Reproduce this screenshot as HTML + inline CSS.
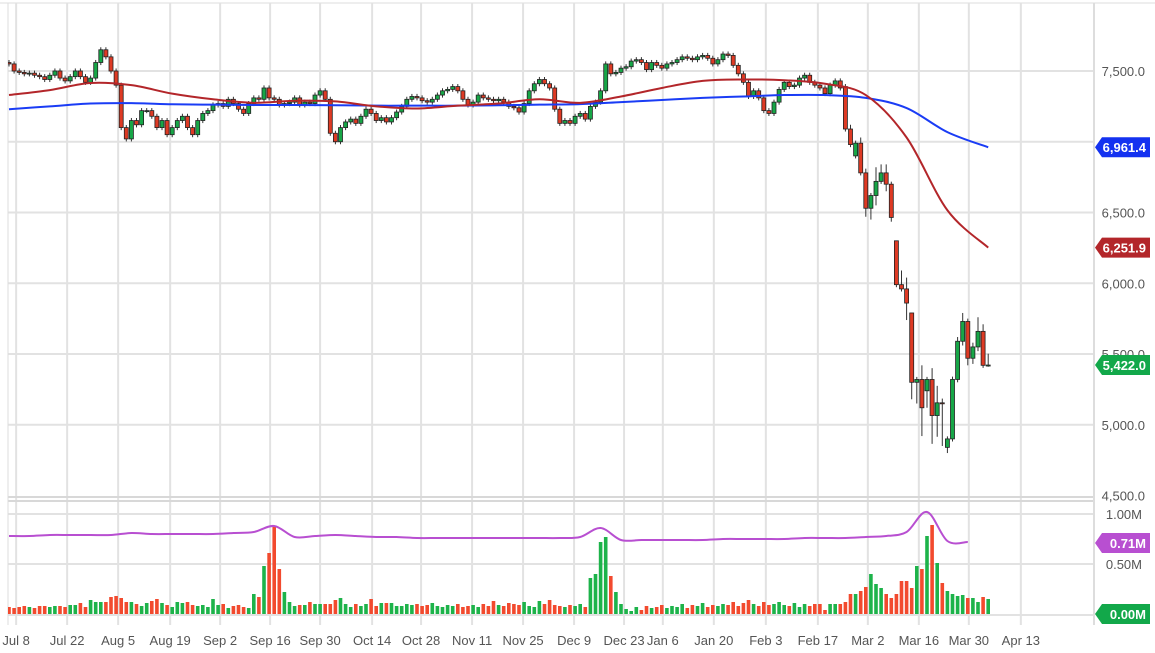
<!DOCTYPE html>
<html><head><meta charset="utf-8"><style>
html,body{margin:0;padding:0;background:#fff;}
svg{display:block;font-family:"Liberation Sans",sans-serif;}
</style></head><body>
<svg id="chart" width="1155" height="653" viewBox="0 0 1155 653">
<defs><clipPath id="plotclip"><rect x="8" y="0" width="1086" height="653"/></clipPath></defs>
<g id="grid"></g>
<g id="vol" clip-path="url(#plotclip)"></g>
<g id="price" clip-path="url(#plotclip)"></g>
<g id="axes"></g>
</svg>
<script>
const closes=[7550,7500,7490,7480,7485,7470,7460,7440,7470,7500,
7450,7430,7460,7500,7460,7420,7450,7560,7650,7600,
7500,7400,7100,7020,7150,7120,7220,7220,7180,7100,
7150,7050,7100,7150,7180,7100,7050,7150,7200,7220,
7260,7270,7250,7300,7270,7230,7200,7270,7310,7300,
7380,7310,7300,7260,7270,7280,7310,7260,7280,7270,
7330,7360,7300,7060,7000,7100,7140,7160,7130,7180,
7230,7200,7150,7170,7140,7170,7210,7250,7300,7320,
7310,7290,7280,7300,7330,7360,7370,7390,7360,7300,
7260,7280,7330,7310,7300,7290,7300,7280,7250,7240,
7210,7270,7360,7410,7440,7410,7380,7230,7130,7150,
7130,7180,7200,7160,7250,7280,7360,7550,7480,7490,
7520,7530,7570,7580,7560,7510,7560,7540,7520,7550,
7560,7580,7600,7590,7580,7600,7610,7590,7550,7580,
7620,7610,7540,7480,7420,7320,7360,7310,7220,7200,
7280,7370,7420,7390,7400,7450,7470,7420,7400,7380,7340,7400,7430,7380,
7090,6980,6990,6780,6530,6620,6720,6780,6700,6465,5990,5960,5860,5300,5320,5120,5320,5065,5155,5150,4900,5320,5590,5730,5470,5550,5660,5420,5422];
const gapOpens={164:7390,166:6900,174:6300,177:5790,180:5240,184:4840,190:5550};
const wickUp={165:30,167:40,168:30,170:100,171:60,172:60,174:0,175:100,176:80,177:0,179:100,181:80,182:120,183:30,185:20,186:30,187:60,188:20,189:30,190:100,191:50,192:80};
const wickDn={168:60,169:80,170:70,172:50,173:30,176:120,177:120,178:150,179:200,180:120,181:200,182:150,183:300,184:40,186:20,187:30,188:50,189:40,190:30,192:10};
const volumes=[.07,.06,.07,.08,.07,.06,.08,.08,.07,.08,
.08,.07,.09,.09,.11,.07,.14,.12,.12,.12,
.17,.18,.16,.12,.12,.10,.08,.11,.13,.15,
.11,.09,.07,.12,.11,.12,.09,.08,.09,.07,
.15,.09,.10,.06,.08,.09,.07,.06,.20,.17,
.48,.61,.88,.45,.22,.12,.08,.09,.09,.12,
.10,.10,.10,.10,.14,.16,.10,.07,.10,.08,
.10,.15,.08,.11,.11,.11,.08,.08,.10,.09,
.10,.08,.09,.11,.08,.07,.09,.08,.10,.07,
.08,.09,.07,.10,.08,.13,.09,.08,.11,.10,
.09,.12,.08,.07,.13,.10,.14,.09,.08,.07,
.09,.08,.10,.07,.36,.40,.72,.77,.38,.22,
.10,.05,.03,.07,.04,.08,.06,.07,.09,.06,
.08,.07,.10,.06,.09,.08,.11,.07,.09,.08,
.10,.09,.12,.08,.11,.14,.10,.08,.12,.09,
.10,.12,.09,.08,.11,.07,.10,
.08,.10,.10,.04,.10,.10,.10,.12,.20,.20,.23,.27,.40,.30,.26,.20,.16,.20,.33,.33,.26,.48,.45,.78,.89,.51,.31,.23,.20,.18,.19,.16,.16,.12,.17,.15];
const ma50Step=8;
const ma50=[7330,7365,7415,7400,7340,7300,7275,7290,7285,7250,7235,7255,7270,7300,7275,7320,7380,7430,7440,7435,7410,7330,7030,6516,6252];
const ma200=[7230,7250,7270,7273,7265,7262,7260,7260,7258,7255,7255,7255,7258,7262,7266,7280,7295,7310,7320,7330,7330,7310,7238,7068,6961];
const volMaStep=4;
const volMa=[.78,.78,.79,.79,.79,.79,.81,.80,.80,.80,.80,.81,.82,.88,.77,.78,.79,.78,.77,.77,.76,.76,.76,.76,.76,.76,.76,.76,.77,.86,.74,.74,.74,.74,.74,.75,.75,.75,.75,.76,.76,.76,.77,.78,.82,1.02,.73,.72];
const priceTicks=[7500,7000,6500,6000,5500,5000,4500];
const priceTickLabels=["7,500.0","7,000.0","6,500.0","6,000.0","5,500.0","5,000.0","4,500.0"];
const volTicks=[1.0,0.5];
const volTickLabels=["1.00M","0.50M"];
const dateTickIdx=[1.4,11.4,21.4,31.6,41.4,51.2,61,71.2,80.8,90.8,100.8,110.8,120.6,128.2,138.2,148.4,158.6,168.4,178.4,188.2,198.4];
const dateTickLabels=["Jul 8","Jul 22","Aug 5","Aug 19","Sep 2","Sep 16","Sep 30","Oct 14","Oct 28","Nov 11","Nov 25","Dec 9","Dec 23","Jan 6","Jan 20","Feb 3","Feb 17","Mar 2","Mar 16","Mar 30","Apr 13"];
const lastPrice=5422.0, lastMa50=6251.9, lastMa200=6961.4, lastVolMa=0.71, lastVol=0.00;

const NS="http://www.w3.org/2000/svg";
const X=i=>9+i*5.1;
const Y=p=>71+(7500-p)*0.1415;
const VY=v=>614-v*100;
function mk(tag,attrs,parent){const e=document.createElementNS(NS,tag);for(const k in attrs)e.setAttribute(k,attrs[k]);parent.appendChild(e);return e;}
const grid=document.getElementById('grid'),vol=document.getElementById('vol'),price=document.getElementById('price'),axes=document.getElementById('axes');
const PR=1094;
// frame
let r=mk('line',{x1:0,x2:1155,y1:3,y2:3,stroke:'#ddd','stroke-width':1},grid);

dateTickIdx.forEach((t,k)=>{
  const x=X(t);
  const l=mk('line',{x1:x,x2:x,y1:3,y2:625,stroke:'#e2e2e2','stroke-width':2},grid);
  
  const tx=mk('text',{x:x,y:645,'text-anchor':'middle','font-size':13,fill:'#555'},axes);
  tx.textContent=dateTickLabels[k];
  
});
priceTicks.forEach((p,k)=>{
  const y=Y(p);
  if(p>4500){const l=mk('line',{x1:8,x2:PR,y1:y,y2:y,stroke:'#e2e2e2','stroke-width':2},grid);
  }
  const tx=mk('text',{x:1145,y:y+5,'text-anchor':'end','font-size':13,fill:'#555'},axes);
  tx.textContent=priceTickLabels[k];
  
});
[497,501].forEach(y=>{const l=mk('line',{x1:8,x2:PR,y1:y,y2:y,stroke:'#d8d8d8','stroke-width':2},grid);
});
volTicks.forEach((v,k)=>{
  const y=VY(v);
  const l=mk('line',{x1:8,x2:PR,y1:y,y2:y,stroke:'#e2e2e2','stroke-width':2},grid);
  
  const tx=mk('text',{x:1142,y:y+5,'text-anchor':'end','font-size':13,fill:'#555'},axes);
  tx.textContent=volTickLabels[k];
  
});
let bl=mk('line',{x1:8,x2:PR,y1:615,y2:615,stroke:'#e2e2e2','stroke-width':2},grid);

let ax=mk('line',{x1:PR,x2:PR,y1:3,y2:625,stroke:'#ddd','stroke-width':2},grid);

let lx=mk('line',{x1:8,x2:8,y1:3,y2:625,stroke:'#ddd','stroke-width':1},grid);


// candles + volume
closes.forEach((c,i)=>{
  const o=(gapOpens[i]!==undefined)?gapOpens[i]:(i>0?closes[i-1]:c+10);
  const up=c>=o;
  const hi=Math.max(o,c)+(wickUp[i]!==undefined?wickUp[i]:18);
  const lo=Math.min(o,c)-(wickDn[i]!==undefined?wickDn[i]:18);
  const x=X(i);
  const w=mk('line',{x1:x,x2:x,y1:Y(hi),y2:Y(lo),stroke:'#333','stroke-width':1},price);
  
  const yt=Y(Math.max(o,c)),yb=Y(Math.min(o,c));
  const b=mk('rect',{x:x-2,y:yt,width:4,height:Math.max(1,yb-yt),fill:up?'#17a647':'#de3a24',stroke:'#222','stroke-width':0.8},price);
  
  const v=volumes[i];
  const vb=mk('rect',{x:x-1.8,y:VY(v),width:3.6,height:v*100,fill:up?'#1db34a':'#f24a2e'},vol);
  
});
function smoothPath(pts){let d='M'+pts[0][0]+','+pts[0][1];
  for(let i=0;i<pts.length-1;i++){const p0=pts[i-1]||pts[i],p1=pts[i],p2=pts[i+1],p3=pts[i+2]||p2;
  d+=' C'+(p1[0]+(p2[0]-p0[0])/6)+','+(p1[1]+(p2[1]-p0[1])/6)+' '+(p2[0]-(p3[0]-p1[0])/6)+','+(p2[1]-(p3[1]-p1[1])/6)+' '+p2[0]+','+p2[1];}
  return d;}
const p200=mk('path',{d:smoothPath(ma200.map((v,k)=>[X(k*ma50Step),Y(v)])),fill:'none',stroke:'#1a3cf5','stroke-width':2},price);

const p50=mk('path',{d:smoothPath(ma50.map((v,k)=>[X(k*ma50Step),Y(v)])),fill:'none',stroke:'#b3262a','stroke-width':2},price);

const pv=mk('path',{d:smoothPath(volMa.map((v,k)=>[X(k*volMaStep),VY(v)])),fill:'none',stroke:'#b84fd1','stroke-width':2},vol);


function badge(y,txt,col,name){
  const g=mk('g',{},axes);
  
  mk('path',{d:`M${PR+1},${y} L${PR+8},${y-10} L1150,${y-10} L1150,${y+10} L${PR+8},${y+10} Z`,fill:col},g);
  const t=mk('text',{x:1146,y:y+5,'text-anchor':'end','font-size':13,'font-weight':'bold',fill:'#fff'},g);
  t.textContent=txt;
}
const fmt=v=>v.toLocaleString('en-US',{minimumFractionDigits:1,maximumFractionDigits:1});
badge(Y(lastMa200),fmt(lastMa200),'#1432f0','ma200-value-badge');
badge(Y(lastMa50),fmt(lastMa50),'#b3262a','ma50-value-badge');
badge(Y(lastPrice),fmt(lastPrice),'#12a84a','last-price-badge');
badge(VY(lastVolMa),lastVolMa.toFixed(2)+'M','#b84fd1','volume-ma-badge');
badge(VY(lastVol),lastVol.toFixed(2)+'M','#12a84a','last-volume-badge');
</script>
</body></html>
